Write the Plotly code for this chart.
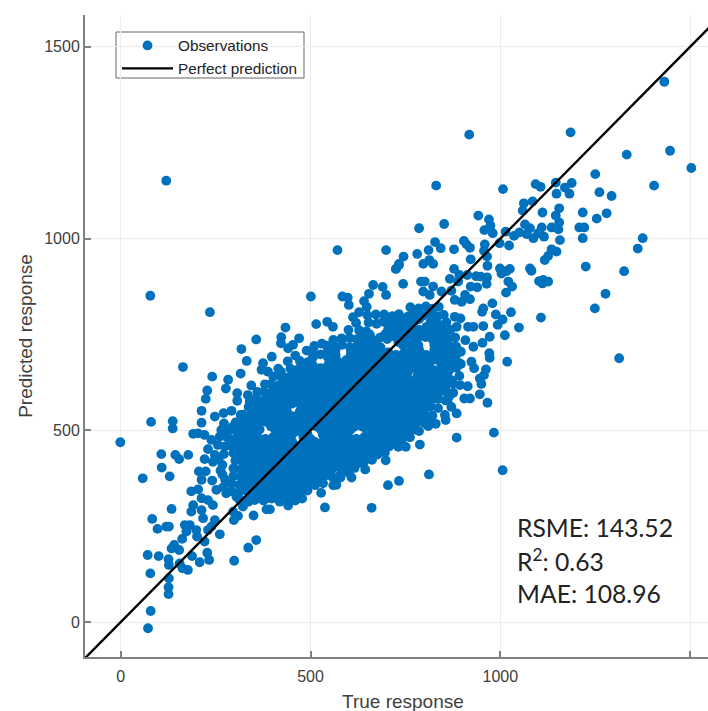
import plotly.graph_objects as go

tick_values = [0, 500, 1000, 1500]
perfect_line = [-95, 1560]
metric_lines = ["RSME: 143.52", "R<sup>2</sup>: 0.63", "MAE: 108.96"]

# Observations as (true, predicted)
upper_outliers = [(120,1151),(78,851),(235,808),(571,970),(699,970),(501,849),(434,768),(515,777),(544,783),(559,770),(584,849),(598,846),(601,827),(612,795),(628,808),(641,837),(654,856),(665,879),(690,874),(699,853),(648,822),(725,921),(733,931)]
upper_right = [(1432,1409),(918,1271),(1185,1277),(1333,1219),(1447,1229),(1503,1184),(1250,1168),(831,1138),(1007,1129),(1093,1142),(1106,1135),(1146,1146),(1188,1145),(1170,1133),(1148,1117),(1182,1117),(1261,1121),(1293,1111),(1405,1138),(1062,1092),(1085,1097),(1059,1073),(1111,1068),(1155,1079),(1146,1060),(1155,1042),(1217,1068),(1254,1052),(1280,1066),(1208,1029),(1221,1029),(1217,1001),(1375,1001),(1362,974),(1225,927),(1326,915),(1277,856),(1249,818),(1313,688),(942,1060),(970,1050),(974,1034),(958,1022),(980,1014),(852,1038),(786,1027),(1014,1018),(1036,1007),(1050,1016),(1065,1037),(1078,1027),(1069,1012),(1087,1001),(1109,1029),(1115,1005),(1135,1029),(1153,1024),(1157,996),(1100,1014),(998,988),(1023,982),(959,985),(957,968),(965,953),(966,929),(904,994),(911,985),(920,976),(878,972),(828,991),(843,975),(811,970),(781,960),(745,953),(733,934),(725,921),(797,934),(813,944),(823,934),(878,921),(922,946),(1135,972),(1148,966),(1126,955),(1117,944),(999,922),(1025,921),(1003,909),(1016,915),(1078,922),(1082,916),(1102,889),(1113,892),(1126,888),(1111,883),(1021,888),(1031,875),(1015,859),(867,895),(892,905),(913,905),(936,902),(948,901),(965,899),(964,882),(889,888),(922,875),(939,873),(744,882),(791,888),(801,888),(823,875),(797,862),(814,853),(845,862),(871,864),(907,853),(920,842),(898,835),(880,840),(979,831),(1028,808),(955,818),(952,809),(988,802),(1006,789),(993,775),(1049,768),(1107,794),(955,772),(929,770),(915,770),(1012,748),(972,744),(953,728),(908,735),(929,718),(971,701),(972,689),(1018,679),(924,679),(931,662),(962,659),(957,644),(946,635),(950,621),(914,615),(896,673),(896,705),(882,718),(895,792),(885,770),(880,796),(905,583),(920,583),(946,594),(966,572),(871,561),(885,544),(861,579),(854,540),(856,527),(810,511),(885,481),(983,494),(1006,396),(812,385),(733,368),(704,357),(661,298),(538,299),(560,357),(579,377),(601,389),(590,409),(628,415),(541,387),(698,422),(731,457),(751,457),(788,463),(724,492),(750,499),(750,485),(776,502)]
lower_left = [(164,665),(357,737),(318,712),(332,681),(398,692),(423,743),(422,727),(454,723),(470,740),(441,714),(375,675),(371,658),(388,653),(316,648),(241,640),(422,653),(283,632),(277,609),(344,617),(228,604),(224,582),(307,597),(307,577),(335,592),(357,584),(213,551),(292,551),(271,545),(248,536),(80,522),(137,524),(137,505),(213,520),(191,491),(204,492),(221,488),(239,475),(265,501),(261,484),(278,484),(274,458),(230,451),(107,438),(144,436),(154,425),(178,436),(108,403),(129,380),(58,375),(221,425),(248,436),(243,418),(206,393),(224,393),(213,371),(241,369),(252,345),(186,341),(204,346),(213,323),(230,318),(243,305),(134,295),(191,305),(186,288),(213,292),(217,271),(83,269),(97,243),(120,249),(127,249),(169,253),(182,253),(173,236),(199,240),(248,266),(239,249),(230,240),(261,229),(201,223),(162,217),(221,210),(141,201),(134,192),(154,188),(71,175),(100,172),(126,164),(127,149),(188,172),(228,181),(208,156),(233,162),(155,153),(163,140),(177,136),(78,127),(127,114),(126,91),(126,73),(79,29),(72,-16),(-1,469),(299,160),(336,194),(357,214),(298,266),(309,277),(350,278),(296,288),(322,301),(336,314),(353,318),(314,318),(384,294),(393,294),(441,304),(463,323),(419,314),(472,358),(494,377),(450,353),(432,336),(410,336),(384,323),(371,345),(397,358),(278,336),(305,327),(665,449),(639,431),(599,449),(573,445),(546,418),(520,410),(537,427),(268,410),(272,438),(263,395),(275,372),(270,352),(258,425),(256,462),(272,518),(268,385)]
dense_edge = [(887,678),(884,697),(884,718),(872,630),(870,670),(868,710),(866,590),(892,642),(806,663),(816,650),(806,770),(650,800),(672,802),(620,780),(600,762),(582,740),(560,736),(530,726),(490,708),(510,720),(460,695),(440,680),(415,661),(402,640),(380,620),(360,600),(340,575),(316,540),(296,510)]
dense_core = [
(763,821),(785,818),(804,823),(822,817),(838,822),
(694,802),(716,798),(733,803),(757,797),(775,802),(796,799),(813,803),(834,797),(851,801),
(653,781),(674,778),(692,783),(713,777),(736,782),(752,778),(773,783),(816,782),(835,778),(858,782),
(628,761),(647,758),(704,762),(727,758),(745,763),(766,757),(787,762),(806,758),(825,763),(848,757),(869,762),
(603,741),(622,738),(641,743),(662,737),(683,742),(702,738),(724,743),(741,737),(762,742),(781,738),(803,743),(822,737),(843,742),(862,738),(881,742),
(543,721),(564,718),(583,723),(604,717),(624,722),(645,718),(663,723),(684,717),(743,723),(765,717),(784,722),(826,723),(845,717),(864,722),
(507,702),(526,698),(547,703),(566,697),(606,698),(626,703),(647,697),(665,702),(686,698),(705,703),(725,697),(746,702),(767,698),(785,703),(804,697),(826,702),(845,698),(866,703),
(472,681),(493,678),(553,682),(573,678),(594,683),(613,677),(634,682),(655,678),(674,683),(693,677),(714,682),(734,678),(755,683),(774,677),(794,682),(815,678),(835,683),(855,677),
(447,661),(466,658),(486,663),(507,657),(526,662),(546,658),(566,663),(587,657),(606,662),(626,658),(647,663),(666,657),(686,662),(707,658),(726,663),(746,657),(766,662),(787,658),(826,657),(846,662),(866,658),(884,663),
(422,641),(441,638),(462,643),(482,637),(501,642),(521,638),(542,643),(561,637),(581,642),(602,638),(621,643),(641,637),(662,642),(681,638),(701,643),(722,637),(741,642),(782,643),(801,637),(821,642),(842,638),(861,643),
(396,621),(416,618),(437,623),(456,617),(476,622),(497,618),(516,623),(536,617),(557,622),(576,618),(596,623),(617,617),(636,622),(656,618),(677,623),(696,617),(716,622),(737,618),(756,623),(776,617),(797,622),(816,618),(836,623),(857,617),(876,622),(894,618),
(377,601),(396,598),(417,603),(436,597),(456,602),(477,598),(496,603),(516,597),(537,602),(556,598),(576,603),(597,597),(616,602),(636,598),(657,603),(676,597),(696,602),(717,598),(736,603),(756,597),(777,602),(796,598),(816,603),(837,597),(856,602),(876,598),
(356,581),(377,578),(397,583),(416,577),(437,582),(457,578),(476,583),(496,577),(517,582),(536,578),(556,583),(577,577),(596,582),(616,578),(637,583),(656,577),(676,582),(697,578),(716,583),(736,577),(757,582),(776,578),(796,583),(817,577),(836,582),(856,578),
(337,561),(356,558),(377,563),(396,557),(416,562),(437,558),(476,557),(497,562),(516,558),(536,563),(557,557),(576,562),(596,558),(617,563),(636,557),(656,562),(677,558),(696,563),(716,557),(737,562),(756,558),(776,563),(797,557),(816,562),(836,558),
(322,541),(341,538),(361,543),(382,537),(401,542),(421,538),(442,543),(461,537),(481,542),(502,538),(521,543),(541,537),(562,542),(581,538),(601,543),(622,537),(641,542),(661,538),(682,543),(701,537),(721,542),(742,538),(761,543),(781,537),(802,542),(821,538),
(303,521),(322,518),(342,523),(363,517),(382,522),(402,518),(423,523),(442,517),(462,522),(483,518),(502,523),(522,517),(543,522),(562,518),(582,523),(603,517),(622,522),(642,518),(663,523),(682,517),(702,522),(723,518),(742,523),(762,517),(783,522),(802,518),(830,517),
(287,501),(306,498),(326,503),(347,497),(366,502),(407,503),(426,497),(446,502),(467,498),(486,503),(527,502),(546,498),(566,503),(587,497),(606,502),(647,503),(666,497),(686,502),(707,498),(726,503),(746,497),(767,502),(786,498),
(282,481),(301,478),(321,483),(342,477),(361,482),(381,478),(402,483),(421,477),(441,482),(481,483),(501,477),(541,478),(561,483),(582,477),(601,482),(621,478),(642,483),(661,477),(681,482),(702,478),(721,483),(741,477),(762,482),
(287,461),(306,458),(326,463),(347,457),(366,462),(386,458),(407,463),(426,457),(446,462),(467,458),(486,463),(506,457),(527,462),(546,458),(566,463),(587,457),(606,462),(626,458),(647,463),(666,457),(686,462),(707,458),(726,463),
(297,441),(316,438),(336,443),(357,437),(376,442),(396,438),(417,443),(436,437),(456,442),(477,438),(496,443),(516,437),(537,442),(556,438),(576,443),(597,437),(616,442),(636,438),(657,443),(676,437),(696,442),
(302,421),(321,418),(341,423),(362,417),(381,422),(401,418),(422,423),(441,417),(461,422),(482,418),(501,423),(521,417),(542,422),(561,418),(581,423),(602,417),(621,422),(641,418),(662,423),
(297,401),(316,398),(336,403),(357,397),(376,402),(396,398),(417,403),(436,397),(456,402),(477,398),(496,403),(516,397),(537,402),(556,398),(576,403),(597,397),(616,402),(644,398),
(297,381),(318,378),(338,383),(359,377),(378,382),(398,378),(419,383),(438,377),(458,382),(479,378),(498,383),(518,377),(539,382),(558,378),(578,383),(608,377),
(292,361),(312,358),(332,363),(353,357),(372,362),(392,358),(413,363),(432,357),(452,362),(473,358),(492,363),(512,357),(533,362),(568,358),
(292,341),(312,338),(332,343),(353,337),(372,342),(392,338),(413,343),(432,337),(452,342),(473,338),(492,343),(528,337),
(312,321),(334,318),(354,323),(376,317),(398,322),(419,318),(441,323),(460,317),(478,322),
]
dense_core_between = [
(706,790),(726,790),(746,790),(766,790),(786,790),(826,790),
(706,770),(726,770),(746,770),(766,770),(826,770),(846,770),
(656,750),(696,750),(716,750),(736,750),(756,750),(776,750),(796,750),(816,750),(836,750),(856,750),
(632,730),(652,730),(672,730),(732,730),(752,730),(772,730),(832,730),(852,730),
(546,710),(566,710),(606,710),(626,710),(646,710),(666,710),(686,710),(766,710),(786,710),(826,710),(846,710),
(506,690),(546,690),(566,690),(606,690),(626,690),(646,690),(666,690),(686,690),(706,690),(726,690),(746,690),(766,690),(786,690),(806,690),(826,690),(846,690),(866,690),
(486,670),(506,670),(546,670),(566,670),(586,670),(606,670),(626,670),(646,670),(666,670),(686,670),(706,670),(726,670),(746,670),(766,670),(786,670),(846,670),
(456,650),(476,650),(496,650),(516,650),(536,650),(556,650),(576,650),(596,650),(616,650),(636,650),(656,650),(676,650),(696,650),(716,650),(736,650),(756,650),(796,650),(836,650),(856,650),
(432,630),(452,630),(472,630),(492,630),(512,630),(532,630),(552,630),(572,630),(592,630),(612,630),(632,630),(652,630),(672,630),(692,630),(712,630),(732,630),(752,630),(772,630),(792,630),(812,630),(832,630),(852,630),
(412,610),(432,610),(452,610),(472,610),(492,610),(512,610),(532,610),(552,610),(572,610),(592,610),(612,610),(632,610),(652,610),(672,610),(692,610),(712,610),(732,610),(752,610),(772,610),(792,610),(812,610),(832,610),(852,610),
(392,590),(412,590),(432,590),(452,590),(472,590),(492,590),(512,590),(532,590),(552,590),(572,590),(592,590),(612,590),(632,590),(652,590),(672,590),(692,590),(712,590),(732,590),(752,590),(772,590),(792,590),(812,590),(832,590),
(372,570),(392,570),(412,570),(432,570),(452,570),(472,570),(492,570),(512,570),(532,570),(552,570),(572,570),(592,570),(612,570),(632,570),(652,570),(672,570),(692,570),(712,570),(732,570),(752,570),(772,570),(792,570),(812,570),
(352,550),(372,550),(392,550),(412,550),(432,550),(472,550),(492,550),(512,550),(532,550),(552,550),(572,550),(592,550),(612,550),(632,550),(652,550),(672,550),(692,550),(712,550),(732,550),(752,550),(772,550),(792,550),
(332,530),(352,530),(372,530),(392,530),(412,530),(432,530),(452,530),(472,530),(492,530),(512,530),(532,530),(552,530),(572,530),(592,530),(612,530),(632,530),(652,530),(672,530),(692,530),(712,530),(732,530),(752,530),(772,530),(792,530),(812,530),
(316,510),(336,510),(356,510),(396,510),(416,510),(436,510),(456,510),(476,510),(496,510),(516,510),(536,510),(556,510),(576,510),(596,510),(616,510),(636,510),(656,510),(676,510),(696,510),(716,510),(736,510),(756,510),
(312,490),(332,490),(352,490),(412,490),(432,490),(452,490),(492,490),(532,490),(552,490),(572,490),(592,490),(652,490),(672,490),(692,490),(712,490),(732,490),
(312,470),(332,470),(352,470),(372,470),(392,470),(412,470),(432,470),(452,470),(492,470),(512,470),(532,470),(552,470),(572,470),(592,470),(612,470),(632,470),(652,470),(672,470),(692,470),(712,470),
(322,450),(342,450),(362,450),(382,450),(402,450),(422,450),(442,450),(462,450),(482,450),(502,450),(522,450),(542,450),(562,450),(582,450),(602,450),(622,450),(642,450),(662,450),(682,450),
(332,430),(352,430),(372,430),(392,430),(412,430),(432,430),(452,430),(472,430),(492,430),(512,430),(532,430),(552,430),(572,430),(592,430),(612,430),(632,430),
(332,410),(352,410),(372,410),(392,410),(412,410),(432,410),(452,410),(472,410),(492,410),(512,410),(532,410),(552,410),(572,410),
(332,390),(352,390),(372,390),(392,390),(412,390),(432,390),(452,390),(472,390),(492,390),(512,390),(532,390),
(326,370),(346,370),(366,370),(386,370),(406,370),(426,370),(446,370),(466,370),(486,370),(506,370),
(326,350),(346,350),(366,350),(386,350),(406,350),(426,350),(446,350),(466,350),(486,350),
(346,330),(366,330),(386,330),(406,330),(426,330),
]

observations = upper_outliers + upper_right + lower_left + dense_edge + dense_core + dense_core_between
true_response = [p[0] for p in observations]
predicted_response = [p[1] for p in observations]

GREY = "#404040"
AXIS = "#808080"
GRID = "#ececec"

# Page coordinates below are converted to the plot area's paper fractions.
PLOT_L, PLOT_W, PLOT_B, PLOT_H = 85, 623, 657, 642


def px(x):
    return (x - PLOT_L) / PLOT_W


def py(y):
    return (PLOT_B - y) / PLOT_H


fig = go.Figure()
fig.add_trace(go.Scatter(
    x=true_response, y=predicted_response, mode="markers", name="Observations",
    marker=dict(color="#0072bd", size=9.8, line=dict(width=0)),
))
fig.add_trace(go.Scatter(
    x=perfect_line, y=perfect_line, mode="lines", name="Perfect prediction",
    line=dict(color="black", width=2.4),
))


def axis_style(rng, standoff):
    return dict(
        range=rng, tickvals=tick_values, ticks="inside", ticklen=6, tickwidth=1.5, tickcolor=AXIS,
        showgrid=True, gridcolor=GRID, gridwidth=1.3, zeroline=False,
        showline=True, linecolor=AXIS, linewidth=2,
        ticklabelstandoff=standoff,
        tickfont=dict(family="Liberation Sans", size=16, color=GREY),
    )


xaxis = axis_style([-94, 1547], 4)
yaxis = axis_style([-91, 1583], 0)
yaxis["title"] = dict(text="Predicted response", standoff=7,
                      font=dict(family="Liberation Sans", size=19, color=GREY))

fig.update_layout(
    width=708, height=711, autosize=False,
    margin=dict(l=85, r=0, t=15, b=54),
    paper_bgcolor="white", plot_bgcolor="white",
    xaxis=xaxis, yaxis=yaxis,
    showlegend=True,
    legend=dict(
        x=px(117), y=py(29), xanchor="left", yanchor="top",
        bgcolor="rgba(0,0,0,0)", borderwidth=0,
        font=dict(family="Liberation Sans", size=15.3, color="#222222"),
        itemwidth=51,
    ),
    shapes=[dict(type="rect", xref="paper", yref="paper", x0=px(116), x1=px(304), y0=py(78), y1=py(32),
                 line=dict(color="#666666", width=1), fillcolor="white", layer="below")],
    annotations=[
        dict(text="True response", xref="paper", yref="paper", x=px(403), y=py(701),
             xanchor="center", yanchor="middle", showarrow=False,
             font=dict(family="Liberation Sans", size=19, color=GREY)),
    ] + [
        dict(text=line, xref="paper", yref="paper", x=px(515), y=py(y),
             xanchor="left", yanchor="middle", showarrow=False,
             font=dict(family="Lato", size=24.7, color="#222222"))
        for line, y in zip(metric_lines, [527, 560, 593])
    ],
)

fig.write_html("out.html", default_width="708px", default_height="711px",
               config={"displayModeBar": False},
               post_script="document.body.style.margin='0';document.documentElement.style.overflow='hidden';")
